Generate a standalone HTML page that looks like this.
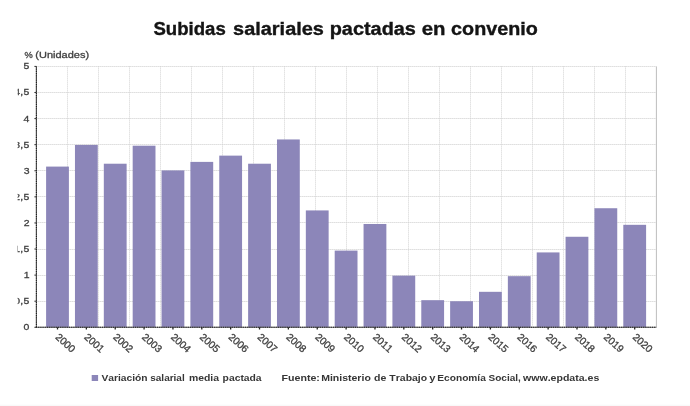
<!DOCTYPE html>
<html><head><meta charset="utf-8"><style>
html,body{margin:0;padding:0;background:#fff;}
body{width:690px;height:406px;overflow:hidden;}
svg{display:block;will-change:transform;}
text{font-family:"Liberation Sans",sans-serif;font-kerning:none;}
.ax{font-size:9.7px;fill:#404040;}
.yl{font-size:9.7px;letter-spacing:0.3px;fill:#404040;stroke:#404040;stroke-width:0.3px;}
.xl{font-size:10.2px;fill:#404040;stroke:#404040;stroke-width:0.3px;}
.title{font-size:17.5px;font-weight:bold;fill:#141414;stroke:#141414;stroke-width:0.35px;}
.unit{font-size:9.4px;fill:#404040;stroke:#404040;stroke-width:0.3px;}
.leg{font-size:9.2px;font-weight:bold;fill:#363636;}
</style></head><body>
<svg width="690" height="406" viewBox="0 0 690 406">
<rect width="690" height="406" fill="#fff"/>
<rect x="0" y="404.6" width="690" height="1.4" fill="#f9f9f9"/>
<text x="153.46" y="34.7" textLength="72.30" lengthAdjust="spacingAndGlyphs" class="title">Subidas</text>
<text x="233.10" y="34.7" textLength="90.82" lengthAdjust="spacingAndGlyphs" class="title">salariales</text>
<text x="329.69" y="34.7" textLength="86.23" lengthAdjust="spacingAndGlyphs" class="title">pactadas</text>
<text x="421.80" y="34.7" textLength="23.76" lengthAdjust="spacingAndGlyphs" class="title">en</text>
<text x="451.13" y="34.7" textLength="86.64" lengthAdjust="spacingAndGlyphs" class="title">convenio</text>
<text x="24.57" y="57.9" textLength="8.26" lengthAdjust="spacingAndGlyphs" class="unit">%</text>
<text x="35.32" y="57.9" textLength="53.76" lengthAdjust="spacingAndGlyphs" class="unit">(Unidades)</text>
<line x1="36.4" y1="301.5" x2="656.4" y2="301.5" stroke="#cbcbcb" stroke-width="1" stroke-dasharray="1 1"/>
<line x1="36.4" y1="275.5" x2="656.4" y2="275.5" stroke="#cbcbcb" stroke-width="1" stroke-dasharray="1 1"/>
<line x1="36.4" y1="249.5" x2="656.4" y2="249.5" stroke="#cbcbcb" stroke-width="1" stroke-dasharray="1 1"/>
<line x1="36.4" y1="222.5" x2="656.4" y2="222.5" stroke="#cbcbcb" stroke-width="1" stroke-dasharray="1 1"/>
<line x1="36.4" y1="196.5" x2="656.4" y2="196.5" stroke="#cbcbcb" stroke-width="1" stroke-dasharray="1 1"/>
<line x1="36.4" y1="170.5" x2="656.4" y2="170.5" stroke="#cbcbcb" stroke-width="1" stroke-dasharray="1 1"/>
<line x1="36.4" y1="144.5" x2="656.4" y2="144.5" stroke="#cbcbcb" stroke-width="1" stroke-dasharray="1 1"/>
<line x1="36.4" y1="118.5" x2="656.4" y2="118.5" stroke="#cbcbcb" stroke-width="1" stroke-dasharray="1 1"/>
<line x1="36.4" y1="92.5" x2="656.4" y2="92.5" stroke="#cbcbcb" stroke-width="1" stroke-dasharray="1 1"/>
<line x1="36.4" y1="66.5" x2="656.4" y2="66.5" stroke="#cbcbcb" stroke-width="1" stroke-dasharray="1 1"/>
<line x1="67.5" y1="66.4" x2="67.5" y2="327.3" stroke="#d2d2d2" stroke-width="1" stroke-dasharray="1 1"/>
<line x1="98.5" y1="66.4" x2="98.5" y2="327.3" stroke="#d2d2d2" stroke-width="1" stroke-dasharray="1 1"/>
<line x1="129.5" y1="66.4" x2="129.5" y2="327.3" stroke="#d2d2d2" stroke-width="1" stroke-dasharray="1 1"/>
<line x1="160.5" y1="66.4" x2="160.5" y2="327.3" stroke="#d2d2d2" stroke-width="1" stroke-dasharray="1 1"/>
<line x1="191.5" y1="66.4" x2="191.5" y2="327.3" stroke="#d2d2d2" stroke-width="1" stroke-dasharray="1 1"/>
<line x1="222.5" y1="66.4" x2="222.5" y2="327.3" stroke="#d2d2d2" stroke-width="1" stroke-dasharray="1 1"/>
<line x1="253.5" y1="66.4" x2="253.5" y2="327.3" stroke="#d2d2d2" stroke-width="1" stroke-dasharray="1 1"/>
<line x1="284.5" y1="66.4" x2="284.5" y2="327.3" stroke="#d2d2d2" stroke-width="1" stroke-dasharray="1 1"/>
<line x1="315.5" y1="66.4" x2="315.5" y2="327.3" stroke="#d2d2d2" stroke-width="1" stroke-dasharray="1 1"/>
<line x1="346.5" y1="66.4" x2="346.5" y2="327.3" stroke="#d2d2d2" stroke-width="1" stroke-dasharray="1 1"/>
<line x1="377.5" y1="66.4" x2="377.5" y2="327.3" stroke="#d2d2d2" stroke-width="1" stroke-dasharray="1 1"/>
<line x1="408.5" y1="66.4" x2="408.5" y2="327.3" stroke="#d2d2d2" stroke-width="1" stroke-dasharray="1 1"/>
<line x1="439.5" y1="66.4" x2="439.5" y2="327.3" stroke="#d2d2d2" stroke-width="1" stroke-dasharray="1 1"/>
<line x1="470.5" y1="66.4" x2="470.5" y2="327.3" stroke="#d2d2d2" stroke-width="1" stroke-dasharray="1 1"/>
<line x1="501.5" y1="66.4" x2="501.5" y2="327.3" stroke="#d2d2d2" stroke-width="1" stroke-dasharray="1 1"/>
<line x1="532.5" y1="66.4" x2="532.5" y2="327.3" stroke="#d2d2d2" stroke-width="1" stroke-dasharray="1 1"/>
<line x1="563.5" y1="66.4" x2="563.5" y2="327.3" stroke="#d2d2d2" stroke-width="1" stroke-dasharray="1 1"/>
<line x1="594.5" y1="66.4" x2="594.5" y2="327.3" stroke="#d2d2d2" stroke-width="1" stroke-dasharray="1 1"/>
<line x1="625.5" y1="66.4" x2="625.5" y2="327.3" stroke="#d2d2d2" stroke-width="1" stroke-dasharray="1 1"/>
<line x1="656.4" y1="66.4" x2="656.4" y2="327.3" stroke="#bdbdbd" stroke-width="1"/>
<rect x="46.10" y="166.59" width="22.8" height="160.71" fill="#8c86b9"/>
<rect x="74.96" y="144.93" width="22.8" height="182.37" fill="#8c86b9"/>
<rect x="103.82" y="163.72" width="22.8" height="163.58" fill="#8c86b9"/>
<rect x="132.68" y="145.71" width="22.8" height="181.59" fill="#8c86b9"/>
<rect x="161.54" y="170.39" width="22.8" height="156.91" fill="#8c86b9"/>
<rect x="190.40" y="161.89" width="22.8" height="165.41" fill="#8c86b9"/>
<rect x="219.26" y="155.63" width="22.8" height="171.67" fill="#8c86b9"/>
<rect x="248.12" y="163.72" width="22.8" height="163.58" fill="#8c86b9"/>
<rect x="276.98" y="139.45" width="22.8" height="187.85" fill="#8c86b9"/>
<rect x="305.84" y="210.42" width="22.8" height="116.88" fill="#8c86b9"/>
<rect x="334.70" y="250.60" width="22.8" height="76.70" fill="#8c86b9"/>
<rect x="363.56" y="223.98" width="22.8" height="103.32" fill="#8c86b9"/>
<rect x="392.42" y="275.64" width="22.8" height="51.66" fill="#8c86b9"/>
<rect x="421.28" y="300.17" width="22.8" height="27.13" fill="#8c86b9"/>
<rect x="450.14" y="301.21" width="22.8" height="26.09" fill="#8c86b9"/>
<rect x="479.00" y="291.82" width="22.8" height="35.48" fill="#8c86b9"/>
<rect x="507.86" y="276.16" width="22.8" height="51.14" fill="#8c86b9"/>
<rect x="536.72" y="252.42" width="22.8" height="74.88" fill="#8c86b9"/>
<rect x="565.58" y="236.77" width="22.8" height="90.53" fill="#8c86b9"/>
<rect x="594.44" y="208.23" width="22.8" height="119.07" fill="#8c86b9"/>
<rect x="623.30" y="224.82" width="22.8" height="102.48" fill="#8c86b9"/>
<line x1="36.4" y1="66.4" x2="36.4" y2="327.8" stroke="#6a6a6a" stroke-width="1.1"/>
<line x1="36.4" y1="66.4" x2="36.4" y2="327.8" stroke="#1e1e1e" stroke-width="1.1" stroke-dasharray="1.2 1"/>
<line x1="35.9" y1="327.3" x2="656.4" y2="327.3" stroke="#6a6a6a" stroke-width="1.1"/>
<line x1="35.9" y1="327.3" x2="656.4" y2="327.3" stroke="#1e1e1e" stroke-width="1.1" stroke-dasharray="1.2 1"/>
<line x1="34.4" y1="327.30" x2="36.4" y2="327.30" stroke="#333" stroke-width="1"/>
<text transform="translate(23.58,330.30) scale(1.08,1)" class="yl">0</text>
<line x1="34.4" y1="301.21" x2="36.4" y2="301.21" stroke="#333" stroke-width="1"/>
<text transform="translate(14.23,304.21) scale(1.08,1)" class="yl">0,5</text>
<line x1="34.4" y1="275.12" x2="36.4" y2="275.12" stroke="#333" stroke-width="1"/>
<text transform="translate(23.69,278.12) scale(1.08,1)" class="yl">1</text>
<line x1="34.4" y1="249.03" x2="36.4" y2="249.03" stroke="#333" stroke-width="1"/>
<text transform="translate(14.23,252.03) scale(1.08,1)" class="yl">1,5</text>
<line x1="34.4" y1="222.94" x2="36.4" y2="222.94" stroke="#333" stroke-width="1"/>
<text transform="translate(23.70,225.94) scale(1.08,1)" class="yl">2</text>
<line x1="34.4" y1="196.85" x2="36.4" y2="196.85" stroke="#333" stroke-width="1"/>
<text transform="translate(14.23,199.85) scale(1.08,1)" class="yl">2,5</text>
<line x1="34.4" y1="170.76" x2="36.4" y2="170.76" stroke="#333" stroke-width="1"/>
<text transform="translate(23.63,173.76) scale(1.08,1)" class="yl">3</text>
<line x1="34.4" y1="144.67" x2="36.4" y2="144.67" stroke="#333" stroke-width="1"/>
<text transform="translate(14.23,147.67) scale(1.08,1)" class="yl">3,5</text>
<line x1="34.4" y1="118.58" x2="36.4" y2="118.58" stroke="#333" stroke-width="1"/>
<text transform="translate(23.48,121.58) scale(1.08,1)" class="yl">4</text>
<line x1="34.4" y1="92.49" x2="36.4" y2="92.49" stroke="#333" stroke-width="1"/>
<text transform="translate(14.23,95.49) scale(1.08,1)" class="yl">4,5</text>
<line x1="34.4" y1="66.40" x2="36.4" y2="66.40" stroke="#333" stroke-width="1"/>
<text transform="translate(23.61,69.40) scale(1.08,1)" class="yl">5</text>
<rect x="0" y="60" width="17.6" height="275" fill="#fff"/>
<line x1="57.50" y1="327.3" x2="57.50" y2="329.50" stroke="#222" stroke-width="1.3"/>
<text transform="translate(54.70,337.9) rotate(42)" class="xl">2000</text>
<line x1="86.36" y1="327.3" x2="86.36" y2="329.50" stroke="#222" stroke-width="1.3"/>
<text transform="translate(83.56,337.9) rotate(42)" class="xl">2001</text>
<line x1="115.22" y1="327.3" x2="115.22" y2="329.50" stroke="#222" stroke-width="1.3"/>
<text transform="translate(112.42,337.9) rotate(42)" class="xl">2002</text>
<line x1="144.08" y1="327.3" x2="144.08" y2="329.50" stroke="#222" stroke-width="1.3"/>
<text transform="translate(141.28,337.9) rotate(42)" class="xl">2003</text>
<line x1="172.94" y1="327.3" x2="172.94" y2="329.50" stroke="#222" stroke-width="1.3"/>
<text transform="translate(170.14,337.9) rotate(42)" class="xl">2004</text>
<line x1="201.80" y1="327.3" x2="201.80" y2="329.50" stroke="#222" stroke-width="1.3"/>
<text transform="translate(199.00,337.9) rotate(42)" class="xl">2005</text>
<line x1="230.66" y1="327.3" x2="230.66" y2="329.50" stroke="#222" stroke-width="1.3"/>
<text transform="translate(227.86,337.9) rotate(42)" class="xl">2006</text>
<line x1="259.52" y1="327.3" x2="259.52" y2="329.50" stroke="#222" stroke-width="1.3"/>
<text transform="translate(256.72,337.9) rotate(42)" class="xl">2007</text>
<line x1="288.38" y1="327.3" x2="288.38" y2="329.50" stroke="#222" stroke-width="1.3"/>
<text transform="translate(285.58,337.9) rotate(42)" class="xl">2008</text>
<line x1="317.24" y1="327.3" x2="317.24" y2="329.50" stroke="#222" stroke-width="1.3"/>
<text transform="translate(314.44,337.9) rotate(42)" class="xl">2009</text>
<line x1="346.10" y1="327.3" x2="346.10" y2="329.50" stroke="#222" stroke-width="1.3"/>
<text transform="translate(343.30,337.9) rotate(42)" class="xl">2010</text>
<line x1="374.96" y1="327.3" x2="374.96" y2="329.50" stroke="#222" stroke-width="1.3"/>
<text transform="translate(372.16,337.9) rotate(42)" class="xl">2011</text>
<line x1="403.82" y1="327.3" x2="403.82" y2="329.50" stroke="#222" stroke-width="1.3"/>
<text transform="translate(401.02,337.9) rotate(42)" class="xl">2012</text>
<line x1="432.68" y1="327.3" x2="432.68" y2="329.50" stroke="#222" stroke-width="1.3"/>
<text transform="translate(429.88,337.9) rotate(42)" class="xl">2013</text>
<line x1="461.54" y1="327.3" x2="461.54" y2="329.50" stroke="#222" stroke-width="1.3"/>
<text transform="translate(458.74,337.9) rotate(42)" class="xl">2014</text>
<line x1="490.40" y1="327.3" x2="490.40" y2="329.50" stroke="#222" stroke-width="1.3"/>
<text transform="translate(487.60,337.9) rotate(42)" class="xl">2015</text>
<line x1="519.26" y1="327.3" x2="519.26" y2="329.50" stroke="#222" stroke-width="1.3"/>
<text transform="translate(516.46,337.9) rotate(42)" class="xl">2016</text>
<line x1="548.12" y1="327.3" x2="548.12" y2="329.50" stroke="#222" stroke-width="1.3"/>
<text transform="translate(545.32,337.9) rotate(42)" class="xl">2017</text>
<line x1="576.98" y1="327.3" x2="576.98" y2="329.50" stroke="#222" stroke-width="1.3"/>
<text transform="translate(574.18,337.9) rotate(42)" class="xl">2018</text>
<line x1="605.84" y1="327.3" x2="605.84" y2="329.50" stroke="#222" stroke-width="1.3"/>
<text transform="translate(603.04,337.9) rotate(42)" class="xl">2019</text>
<line x1="634.70" y1="327.3" x2="634.70" y2="329.50" stroke="#222" stroke-width="1.3"/>
<text transform="translate(631.90,337.9) rotate(42)" class="xl">2020</text>
<rect x="91.7" y="375" width="6.4" height="6" fill="#8c86b9"/>
<text x="101.53" y="380.7" textLength="46.11" lengthAdjust="spacingAndGlyphs" class="leg">Variación</text>
<text x="150.25" y="380.7" textLength="34.46" lengthAdjust="spacingAndGlyphs" class="leg">salarial</text>
<text x="188.91" y="380.7" textLength="30.12" lengthAdjust="spacingAndGlyphs" class="leg">media</text>
<text x="222.62" y="380.7" textLength="39.01" lengthAdjust="spacingAndGlyphs" class="leg">pactada</text>
<text x="281.59" y="380.7" textLength="38.33" lengthAdjust="spacingAndGlyphs" class="leg">Fuente:</text>
<text x="321.20" y="380.7" textLength="49.61" lengthAdjust="spacingAndGlyphs" class="leg">Ministerio</text>
<text x="374.07" y="380.7" textLength="12.29" lengthAdjust="spacingAndGlyphs" class="leg">de</text>
<text x="389.38" y="380.7" textLength="37.73" lengthAdjust="spacingAndGlyphs" class="leg">Trabajo</text>
<text x="429.21" y="380.7" textLength="6.25" lengthAdjust="spacingAndGlyphs" class="leg">y</text>
<text x="437.32" y="380.7" textLength="48.51" lengthAdjust="spacingAndGlyphs" class="leg">Economía</text>
<text x="488.51" y="380.7" textLength="32.36" lengthAdjust="spacingAndGlyphs" class="leg">Social,</text>
<text x="523.03" y="380.7" textLength="76.30" lengthAdjust="spacingAndGlyphs" class="leg">www.epdata.es</text>
</svg>
</body></html>
